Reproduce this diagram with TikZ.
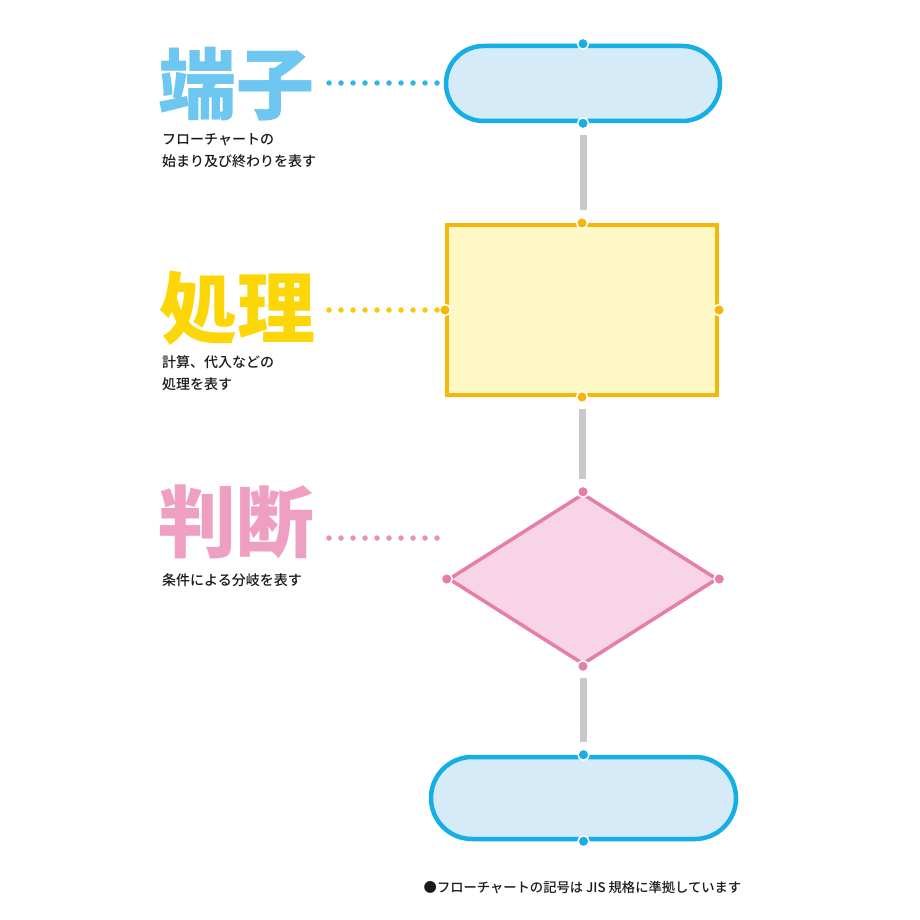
\documentclass[tikz,border=0pt]{standalone}
\usepackage{fontspec}
\setmainfont{Noto Sans CJK JP}
\newfontfamily\heavyfont{Noto Sans CJK JP Black}
\newfontfamily\medfont{Noto Sans CJK JP Medium}
\usetikzlibrary{shapes.geometric}
\definecolor{termline}{HTML}{17AEE5}
\definecolor{termfill}{HTML}{D5EBF8}
\definecolor{termtitle}{HTML}{6DC7F1}
\definecolor{procline}{HTML}{F5B70A}
\definecolor{procfill}{HTML}{FEF8C4}
\definecolor{proctitle}{HTML}{FDD608}
\definecolor{decline}{HTML}{E57EA9}
\definecolor{decfill}{HTML}{F8D5E6}
\definecolor{dectitle}{HTML}{EFA0C2}
\definecolor{barcol}{HTML}{C9C9C9}
\definecolor{txt}{HTML}{1A1A1A}
\tikzset{
  title/.style={font=\heavyfont\fontsize{78}{80}\selectfont, inner sep=0pt},
  desc/.style={font=\medfont\fontsize{14}{22}\selectfont, text=txt, align=left, inner sep=0pt, anchor=west},
  dotline/.style={line width=5.5pt, line cap=round, dash pattern=on 0pt off 12pt},
  cdot/.style={circle, fill=#1, draw=white, line width=1.5pt, inner sep=0pt, minimum size=11pt},
  termbox/.style={draw=termline, fill=termfill, line width=4.5pt, rounded corners=#1, inner sep=0pt},
  procbox/.style={draw=procline, fill=procfill, line width=4pt, inner sep=0pt},
  decbox/.style={diamond, draw=decline, fill=decfill, line width=3.5pt, inner sep=0pt},
  bar/.style={draw=barcol, line width=7pt, shorten <=12pt, shorten >=13pt}
}
\begin{document}
\begin{tikzpicture}[x=1pt,y=-1pt]
\useasboundingbox[fill=white] (0,0) rectangle (920,920);

% shapes
\node[termbox=37.5pt, minimum width=274pt, minimum height=75pt] (t1) at (583,83.5) {};
\node[procbox, minimum width=270pt, minimum height=170pt] (p) at (582,310) {};
\node[decbox, minimum width=269pt, minimum height=171pt] (d) at (583,579) {};
\node[termbox=41pt, minimum width=305pt, minimum height=82pt] (t2) at (583.5,798) {};

% connectors
\draw[bar] (t1.south) -- (t1.south |- p.north);
\draw[bar] (p.south) -- (p.south |- d.north);
\draw[bar] (d.south) -- (d.south |- t2.north);

% connection points
\node[cdot=termline] (t1n) at (t1.north) {};
\node[cdot=termline] (t1s) at (t1.south) {};
\node[cdot=procline] (pn) at (p.north) {};
\node[cdot=procline] (ps) at (p.south) {};
\node[cdot=procline] (pw) at (p.west) {};
\node[cdot=procline] (pe) at (p.east) {};
\node[cdot=decline] (dn) at (d.north) {};
\node[cdot=decline] (ds) at (d.south) {};
\node[cdot=decline] (dw) at (d.west) {};
\node[cdot=decline] (de) at (d.east) {};
\node[cdot=termline] (t2n) at (t2.north) {};
\node[cdot=termline] (t2s) at (t2.south) {};

% titles
\node[title, text=termtitle] (h1) at (236,84) {端子};
\node[title, text=proctitle] (h2) at (237,308) {処理};
\node[title, text=dectitle] (h3) at (236,522) {判断};

% descriptions
\node[desc] (s1) at (162,151) {フローチャートの\\始まり及び終わりを表す};
\node[desc] (s2) at (162,373.5) {計算、代入などの\\処理を表す};
\node[desc] (s3) at (162,580) {条件による分岐を表す};

% dotted leaders
\coordinate (a1) at (329,83);  \coordinate (b1) at (437,83);
\coordinate (a2) at (329,310); \coordinate (b2) at (437,310);
\coordinate (a3) at (329,538); \coordinate (b3) at (437,538);
\draw[dotline, termline!70!termtitle] (a1) -- (b1);
\draw[dotline, procline!40!proctitle] (a2) -- (b2);
\draw[dotline, decline!50!dectitle] (a3) -- (b3);

% footnote
\node[font=\medfont\fontsize{13.3}{16}\selectfont, text=txt, inner sep=0pt] (fn) at (582.5,887) {●フローチャートの記号は JIS 規格に準拠しています};
\end{tikzpicture}
\end{document}
